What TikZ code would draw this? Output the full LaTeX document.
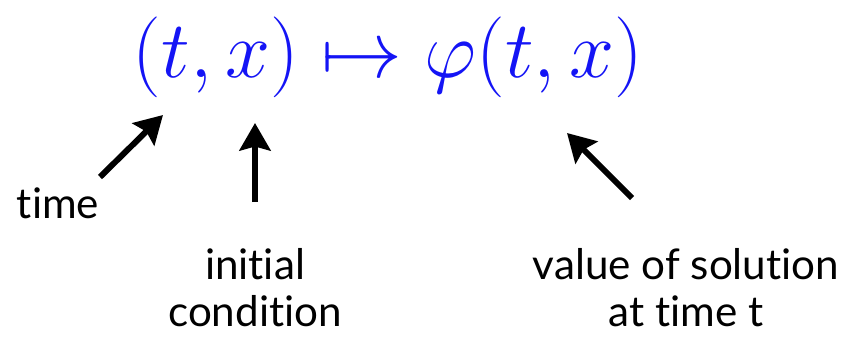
\RequirePackage{fix-cm}
\documentclass[tikz,border=0pt]{standalone}
\usepackage{fontspec}
\setmainfont[Ligatures=NoCommon]{Lato}
\usepackage{tikz}
\usetikzlibrary{arrows.meta, positioning}
\definecolor{mapblue}{RGB}{20,20,245}
\tikzset{
  formulanode/.style={
    inner sep=0pt, text=mapblue,
    font=\fontsize{46}{54}\selectfont
  },
  labelnode/.style={
    inner sep=0pt, align=center, text=black,
    font=\fontsize{24}{27}\selectfont
  },
  pointarrow/.style={
    -{Stealth[length=0.55cm,width=0.62cm,inset=0.08cm]},
    draw=black, line width=3.4pt
  },
}

\begin{document}
\begin{tikzpicture}

  \useasboundingbox (0,0) rectangle (17.08,6.8);

  %% Formula
  \node[formulanode] (map) at (7.76,5.66) {$(t,x)\mapsto\varphi(t,x)$};

  %% Labels
  \node[labelnode] (time) at (1.16,2.74) {time};
  \node[labelnode] (init) at (5.10,1.05) {initial\\condition};
  \node[labelnode] (value) at (13.72,1.05) {value of solution\\at time t};

  %% Arrow ends
  \coordinate (timetail) at (2.00,3.26);
  \coordinate (timetip) at (3.26,4.50);
  \coordinate (inittail) at (5.10,2.76);
  \coordinate (inittip) at (5.10,4.34);
  \coordinate (valuetail) at (12.64,2.84);
  \coordinate (valuetip) at (11.34,4.14);

  %% Arrows
  \draw[pointarrow] (timetail) -- (timetip);
  \draw[pointarrow] (inittail) -- (inittip);
  \draw[pointarrow] (valuetail) -- (valuetip);

\end{tikzpicture}
\end{document}
